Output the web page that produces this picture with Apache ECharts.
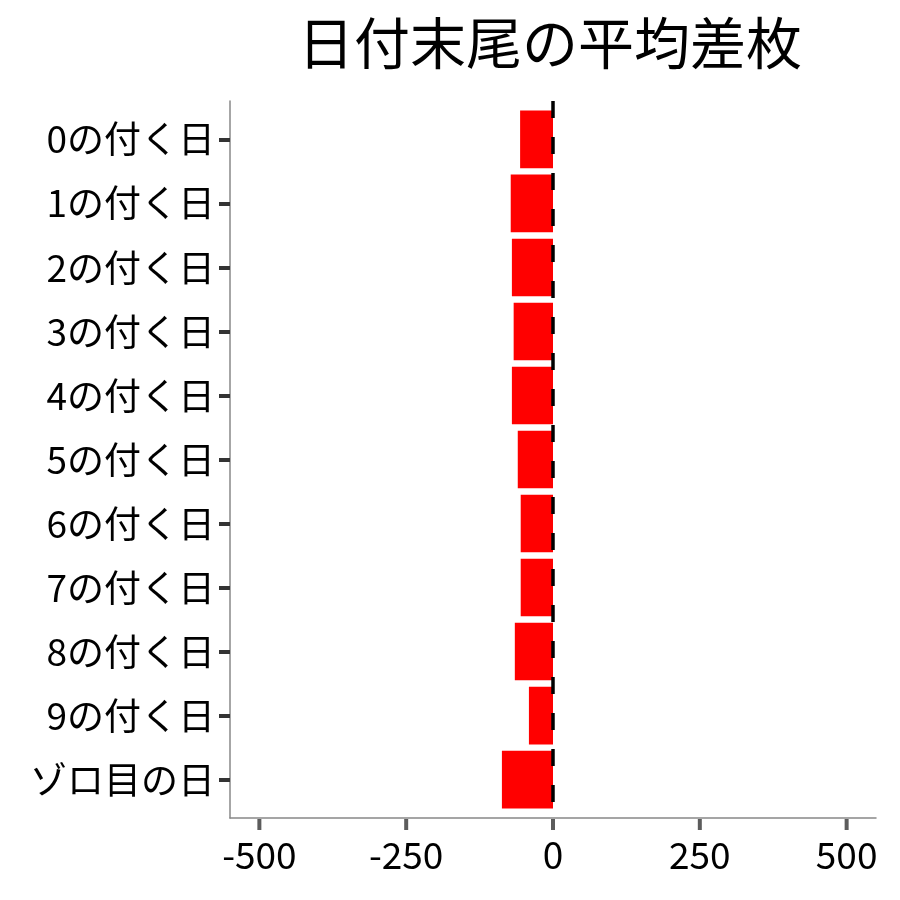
<!DOCTYPE html>
<html>
<head>
<meta charset="utf-8">
<script src="https://cdn.jsdelivr.net/npm/echarts@6/dist/echarts.min.js"></script>
<style>
  html, body { margin: 0; padding: 0; background: #fff; }
  #main { width: 900px; height: 900px; }
</style>
</head>
<body>
<div id="main"></div>
<script>
var titleText = '日付末尾の平均差枚'
var categories = ['0の付く日', '1の付く日', '2の付く日', '3の付く日', '4の付く日', '5の付く日',
  '6の付く日', '7の付く日', '8の付く日', '9の付く日', 'ゾロ目の日']
var avgDiff = [-56, -72, -70, -67, -70, -60, -55, -55, -65, -41, -87]
var xTicks = [-500, -250, 0, 250, 500]

var font = '"Noto Sans CJK JP", "Noto Sans", sans-serif'
var chart = echarts.init(document.getElementById('main'))

// category positions 1..n on a value axis (ggplot style 0.6 padding)
var yMin = 0.4
var yMax = categories.length + 0.6
var yPos = categories.map(function (c, i) { return i + 1 })
var barData = avgDiff.map(function (v, i) { return [v, i + 1] })
// x tick marks, placed on the bottom edge of the axis
var xTickData = xTicks.map(function (v) { return [v, yMax] })

var option = {
  animation: false,
  backgroundColor: '#ffffff',
  title: {
    text: titleText,
    left: 545,
    textAlign: 'center',
    top: 10,
    textStyle: { fontFamily: font, fontSize: 56, fontWeight: 'normal', color: '#000' }
  },
  grid: {
    left: 230,
    right: 24,
    top: 101,
    bottom: 82
  },
  xAxis: {
    type: 'value',
    min: -550,
    max: 550,
    splitLine: { show: false },
    axisLine: { show: true, onZero: false, lineStyle: { color: '#888', width: 1.5 } },
    axisTick: { show: false },
    axisLabel: {
      customValues: xTicks,
      margin: 18,
      fontFamily: font,
      fontSize: 37,
      color: '#000'
    }
  },
  yAxis: {
    type: 'value',
    inverse: true,
    min: yMin,
    max: yMax,
    splitLine: { show: false },
    axisLine: { show: true, onZero: false, lineStyle: { color: '#888', width: 1.5 } },
    axisTick: { show: true, length: 11, customValues: yPos, lineStyle: { color: '#333', width: 4 } },
    axisLabel: {
      customValues: yPos,
      margin: 15,
      fontFamily: font,
      fontSize: 37,
      color: '#000',
      formatter: function (v) { return categories[Math.round(v) - 1] || '' }
    }
  },
  series: [{
    type: 'custom',
    data: barData,
    encode: { x: 0, y: 1 },
    renderItem: function (params, api) {
      var v = api.value(0)
      var p = api.value(1)
      var a = api.coord([v, p - 0.45])
      var b = api.coord([0, p + 0.45])
      return {
        type: 'rect',
        shape: {
          x: Math.min(a[0], b[0]),
          y: Math.min(a[1], b[1]),
          width: Math.abs(b[0] - a[0]),
          height: Math.abs(b[1] - a[1])
        },
        style: { fill: '#ff0000' }
      }
    }
  }, {
    type: 'line',
    data: [[0, yMin], [0, yMax]],
    symbol: 'none',
    silent: true,
    z: 5,
    lineStyle: { color: '#000', width: 3.5, type: [17, 19] }
  }, {
    type: 'scatter',
    data: xTickData,
    symbol: 'rect',
    symbolSize: [4, 11],
    symbolOffset: [0, 6.5],
    clip: false,
    silent: true,
    z: 4,
    itemStyle: { color: '#333' }
  }]
}
chart.setOption(option)
</script>
</body>
</html>
